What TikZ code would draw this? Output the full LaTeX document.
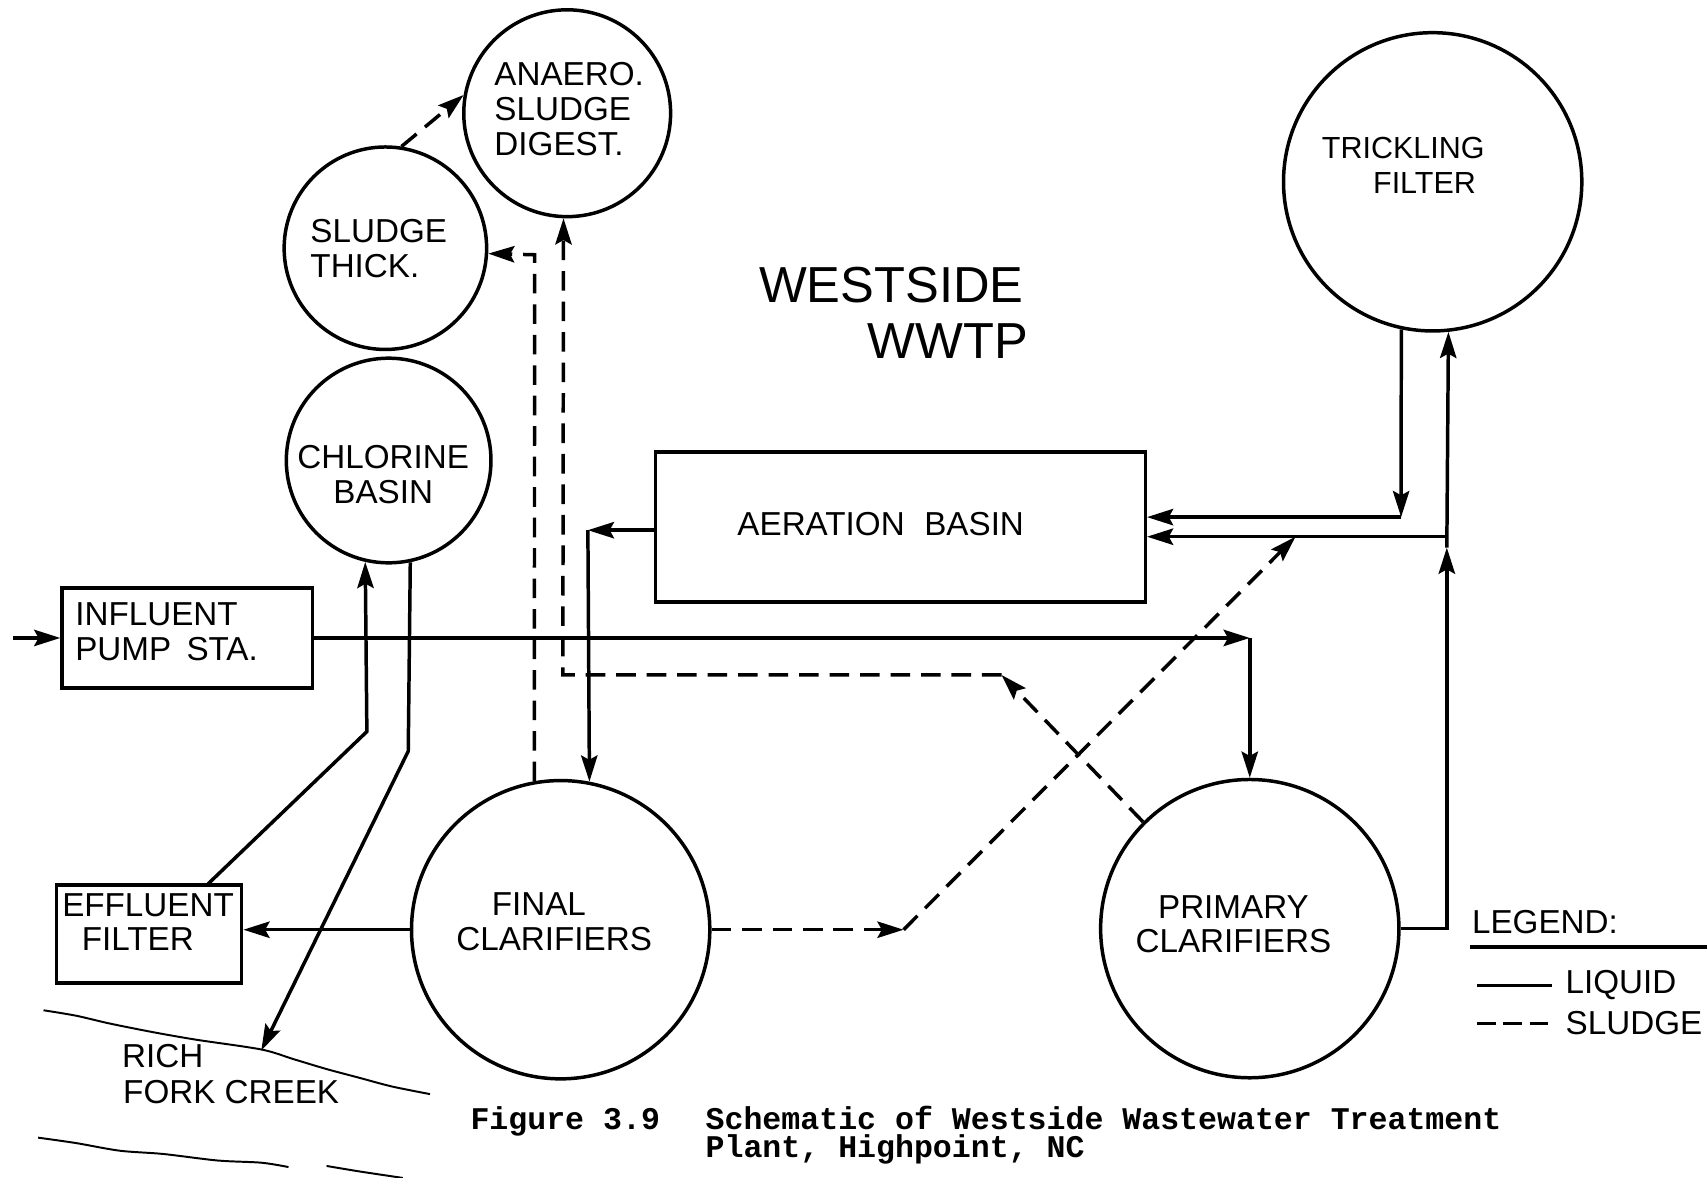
\documentclass[tikz,border=0pt]{standalone}
\usepackage{fontspec}
\setmainfont{Liberation Sans}
\newfontfamily\capfont{Liberation Mono}
\usetikzlibrary{arrows.meta}
\begin{document}
\begin{tikzpicture}[x=1pt,y=-1pt,
  lw/.style={line width=3.2pt},
  arr/.style={lw,-{Stealth[length=24pt,width=15pt,inset=4pt]}},
  sl/.style={dash pattern=on 18pt off 10pt},
  tank/.style={circle,draw,line width=3.2pt,inner sep=0pt,minimum size=#1},
  box/.style={draw,line width=3.2pt,inner sep=0pt},
  lab/.style={font=\fontsize{30.5}{32}\selectfont,inner sep=0pt,align=left},
  big/.style={font=\fontsize{46.5}{50}\selectfont,inner sep=0pt,anchor=west},
  captxt/.style={font=\capfont\bfseries\fontsize{29}{26}\selectfont,inner sep=0pt,anchor=north west,align=left},
]
\useasboundingbox (0,0) rectangle (1568,1082);
% tanks and boxes
\node[tank=190pt] (an) at (521,104) {};
\node[tank=186pt] (st) at (354,228) {};
\node[tank=188pt] (cb) at (357,423) {};
\node[tank=274pt] (tf) at (1316,167) {};
\node[tank=274pt] (fc) at (515,854) {};
\node[tank=274pt] (pc) at (1148,853) {};
\node[box,minimum width=450pt,minimum height=138pt] (ab) at (827,484) {};
\node[box,minimum width=230pt,minimum height=92pt] (ip) at (172,586) {};
\node[box,minimum width=170pt,minimum height=90pt] (ef) at (137,858) {};
% labels
\node[lab,anchor=west] (tan) at (454,100) {ANAERO.\\SLUDGE\\DIGEST.};
\node[lab,anchor=west] (tst) at (285,228) {SLUDGE\\THICK.};
\node[lab,align=center] (tcb) at (352,436) {CHLORINE\\BASIN};
\node[lab,font=\fontsize{28}{32}\selectfont,align=right] (ttf) at (1289,152) {TRICKLING\\FILTER\hspace*{8pt}};
\node[lab,align=center] (tfc) at (509,847) {FINAL\hspace*{28pt}\\CLARIFIERS};
\node[lab,align=center] (tpc) at (1133,849) {PRIMARY\\CLARIFIERS};
\node[lab] (tab) at (809,481) {AERATION\hspace{18pt}BASIN};
\node[lab,anchor=west] (tip) at (69,580) {INFLUENT\\PUMP\hspace{14pt}STA.};
\node[lab,anchor=west] (tef) at (57,847) {EFFLUENT\\\hspace*{18pt}FILTER};
\node[big] (t1) at (697,262) {WESTSIDE};
\node[big] (t2) at (797,313) {WWTP};
\node[lab,anchor=west] (rc1) at (112,970) {RICH};
\node[lab,anchor=west] (rc2) at (113,1003) {FORK CREEK};
% connectors, liquid
\coordinate (in) at (12,586);
\coordinate (c1) at (pc.north |- ip.east);
\coordinate (j1) at (1329,493);
\coordinate (j1b) at (1329,503);
\coordinate (j2) at (1287,475);
\coordinate (c4) at (540,487);
\coordinate (e1) at (190,813);
\coordinate (c5) at (337,672);
\coordinate (c6) at (375,690);
\coordinate (ck) at (240,965);
\draw[arr] (in) -- (ip.west);
\draw[arr] (ip.east) -- (c1);
\draw[arr] (c1) -- (pc.north);
\draw[arr] (pc.east) -| (j1b);
\draw[arr] (j1b) -- (tf.-84.7);
\draw[arr] (j1) -- (j1 -| ab.east);
\draw[arr] (tf.-102) -- (j2);
\draw[arr] (j2) -- (j2 -| ab.east);
\draw[arr] (ab.west |- c4) -- (c4);
\draw[arr] (c4) -- (fc.79.5);
\draw[arr] (fc.west) -- (fc.west -| ef.east);
\draw[arr] (e1) -- (c5) -- (cb.-103);
\draw[arr] (cb.-78.5) -- (c6) -- (ck);
% connectors, sludge
\coordinate (d1) at (491,234);
\coordinate (d2) at (920,620);
\coordinate (d3) at (517,620);
\coordinate (d4) at (830,854);
\coordinate (d5) at (1190,493);
\draw[arr,sl] (fc.100.1) -- (d1) -- (st.-3.7);
\draw[arr,sl] (pc.135) -- (d2);
\draw[arr,sl] (d2) -- (d3) -- (an.-92);
\draw[arr,sl] (fc.east) -- (d4);
\draw[arr,sl] (d4) -- (d5);
\draw[arr,sl] (st.81) -- (an.170);
% creek
\draw[line width=1.8pt] plot[smooth] coordinates {(40,928) (70,933) (100,940) (140,948) (180,955) (240,964) (270,973) (300,982) (330,990) (360,998) (395,1005)};
\draw[line width=1.8pt] plot[smooth] coordinates {(35,1045) (70,1050) (110,1057) (150,1060) (200,1066) (240,1068) (265,1072)};
\draw[line width=1.8pt] plot[smooth] coordinates {(300,1071) (330,1076) (370,1082)};
% legend
\node[lab,anchor=west] (lg) at (1352,847) {LEGEND:};
\coordinate (u1) at (1350,870);
\coordinate (u2) at (1568,870);
\draw[line width=3.4pt] (u1) -- (u2);
\coordinate (l1) at (1357,905);
\coordinate (l2) at (1426,905);
\coordinate (s1) at (1357,940);
\coordinate (s2) at (1422,940);
\draw[lw] (l1) -- (l2);
\draw[lw,dash pattern=on 17pt off 7pt] (s1) -- (s2);
\node[lab,anchor=west] (lq) at (1438,905) {LIQUID};
\node[lab,anchor=west] (ls) at (1438,940) {SLUDGE};
% caption
\node[captxt] (f1) at (432,1016) {Figure 3.9};
\node[captxt] (f2) at (648,1016) {Schematic of Westside Wastewater Treatment\\Plant, Highpoint, NC};
\end{tikzpicture}
\end{document}
